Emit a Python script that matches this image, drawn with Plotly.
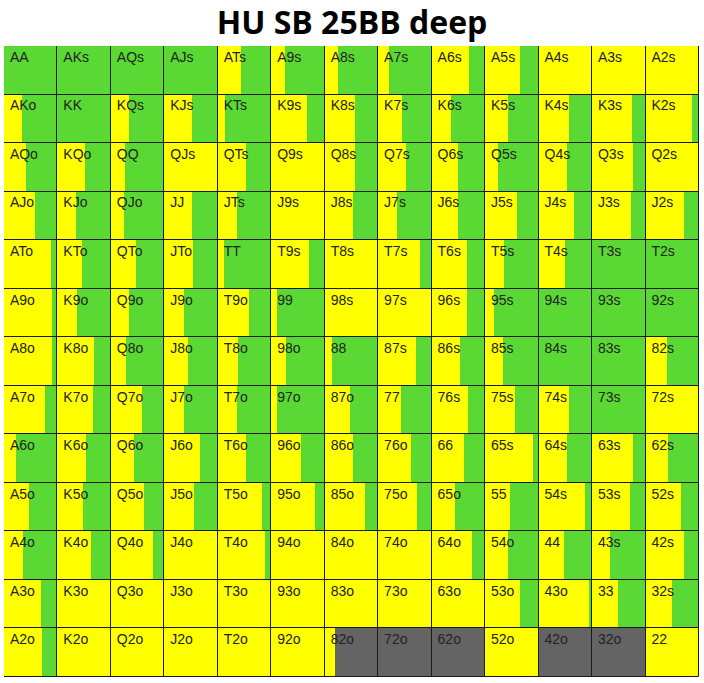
import plotly.graph_objects as go

RANKS = ["A", "K", "Q", "J", "T", "9", "8", "7", "6", "5", "4", "3", "2"]

# share of each hand drawn in yellow (left part of the cell), rows A..2, cols A..2
yellow_share = [
    [0.00, 0.00, 0.00, 0.00, 0.44, 0.25, 0.24, 0.20, 0.69, 0.66, 1.00, 1.00, 1.00],
    [0.34, 0.00, 0.34, 0.52, 0.14, 0.67, 0.57, 0.44, 0.36, 0.42, 0.56, 0.74, 0.87],
    [0.41, 0.52, 0.26, 1.00, 0.52, 1.00, 0.57, 0.52, 0.50, 0.24, 0.54, 0.77, 1.00],
    [0.58, 0.35, 0.25, 0.52, 0.36, 1.00, 0.52, 0.36, 0.49, 0.59, 0.66, 0.72, 0.72],
    [0.87, 0.46, 0.47, 0.53, 0.12, 0.70, 1.00, 0.78, 0.66, 0.36, 0.49, 0.00, 0.00],
    [0.90, 0.37, 0.34, 0.37, 0.58, 0.11, 1.00, 1.00, 0.66, 0.16, 0.00, 0.00, 0.00],
    [0.89, 0.69, 0.28, 0.44, 0.38, 0.27, 0.14, 0.70, 0.53, 0.33, 0.00, 0.00, 0.40],
    [0.77, 0.66, 0.59, 0.37, 0.36, 0.11, 0.48, 0.42, 0.67, 0.55, 0.56, 0.00, 1.00],
    [0.22, 0.54, 0.44, 0.66, 0.52, 0.55, 0.52, 0.61, 0.61, 0.90, 0.54, 0.77, 0.42],
    [0.46, 0.47, 0.62, 0.56, 0.83, 0.81, 0.75, 0.73, 0.44, 0.46, 0.86, 0.71, 0.66],
    [0.36, 0.62, 0.78, 1.00, 0.89, 1.00, 1.00, 1.00, 0.75, 0.42, 0.48, 0.33, 0.72],
    [0.69, 1.00, 1.00, 1.00, 1.00, 1.00, 1.00, 1.00, 1.00, 0.66, 0.94, 0.49, 0.50],
    [0.72, 1.00, 1.00, 1.00, 1.00, 1.00, 0.20, 0.00, 0.00, 1.00, 0.00, 0.00, 1.00],
]

# share of each hand drawn in grey (folded part, right side of the cell)
grey_share = [
    [0.00] * 13,
    [0.00] * 13,
    [0.00] * 13,
    [0.00] * 13,
    [0.00] * 13,
    [0.00] * 13,
    [0.00] * 13,
    [0.00] * 13,
    [0.00] * 13,
    [0.00] * 13,
    [0.00] * 13,
    [0.00] * 13,
    [0.00, 0.00, 0.00, 0.00, 0.00, 0.00, 0.80, 1.00, 1.00, 0.00, 1.00, 1.00, 0.00],
]

YELLOW = "#FFFF00"
GREEN = "#5AD934"
GREY = "#646464"

n = len(RANKS)
labels, cols, rows = [], [], []
y_w, y_b, g_w, g_b, k_w, k_b = [], [], [], [], [], []
for r in range(n):
    for c in range(n):
        if r == c:
            lab = RANKS[r] + RANKS[c]
        elif c > r:
            lab = RANKS[r] + RANKS[c] + "s"
        else:
            lab = RANKS[c] + RANKS[r] + "o"
        labels.append(lab)
        cols.append(c)
        rows.append(r + 0.5)
        ys = yellow_share[r][c]
        ks = grey_share[r][c]
        gs = max(0.0, 1.0 - ys - ks)
        y_w.append(ys); y_b.append(c)
        g_w.append(gs); g_b.append(c + ys)
        k_w.append(ks); k_b.append(c + ys + gs)

fig = go.Figure()
for w, b, colr, name in [(y_w, y_b, YELLOW, "yellow"), (g_w, g_b, GREEN, "green"), (k_w, k_b, GREY, "grey")]:
    fig.add_trace(go.Bar(
        orientation="h", x=w, base=b, y=rows, width=1,
        marker=dict(color=colr, line=dict(width=0)), name=name,
        hoverinfo="skip", showlegend=False,
    ))

# cell outlines
fig.add_trace(go.Bar(
    orientation="h", x=[1] * len(cols), base=cols, y=rows, width=1,
    marker=dict(color="rgba(0,0,0,0)", line=dict(width=1, color="#1a1a1a")),
    hoverinfo="skip", showlegend=False,
))

# hand labels
fig.add_trace(go.Scatter(
    x=[c + 0.11 for c in cols], y=[r - 0.5 + 0.11 for r in rows],
    mode="text", text=labels, textposition="bottom right",
    textfont=dict(family="Liberation Sans, Arial", size=14, color="#222222"),
    hoverinfo="skip", showlegend=False,
))

fig.update_layout(
    width=704, height=683,
    margin=dict(l=4, r=5, t=46, b=6),
    paper_bgcolor="white", plot_bgcolor="white",
    barmode="overlay", bargap=0,
    title=dict(text="<b>HU SB 25BB deep</b>", x=0.5, xanchor="center",
               y=0.966, yanchor="middle",
               font=dict(family="Open Sans, Noto Sans", size=32, color="black")),
    xaxis=dict(range=[0, 13], visible=False, fixedrange=True),
    yaxis=dict(range=[13, 0], visible=False, fixedrange=True),
)

fig.write_html(
    "out.html",
    config={"displayModeBar": False},
    post_script="document.body.style.margin='0px';document.body.style.overflow='hidden';",
)
